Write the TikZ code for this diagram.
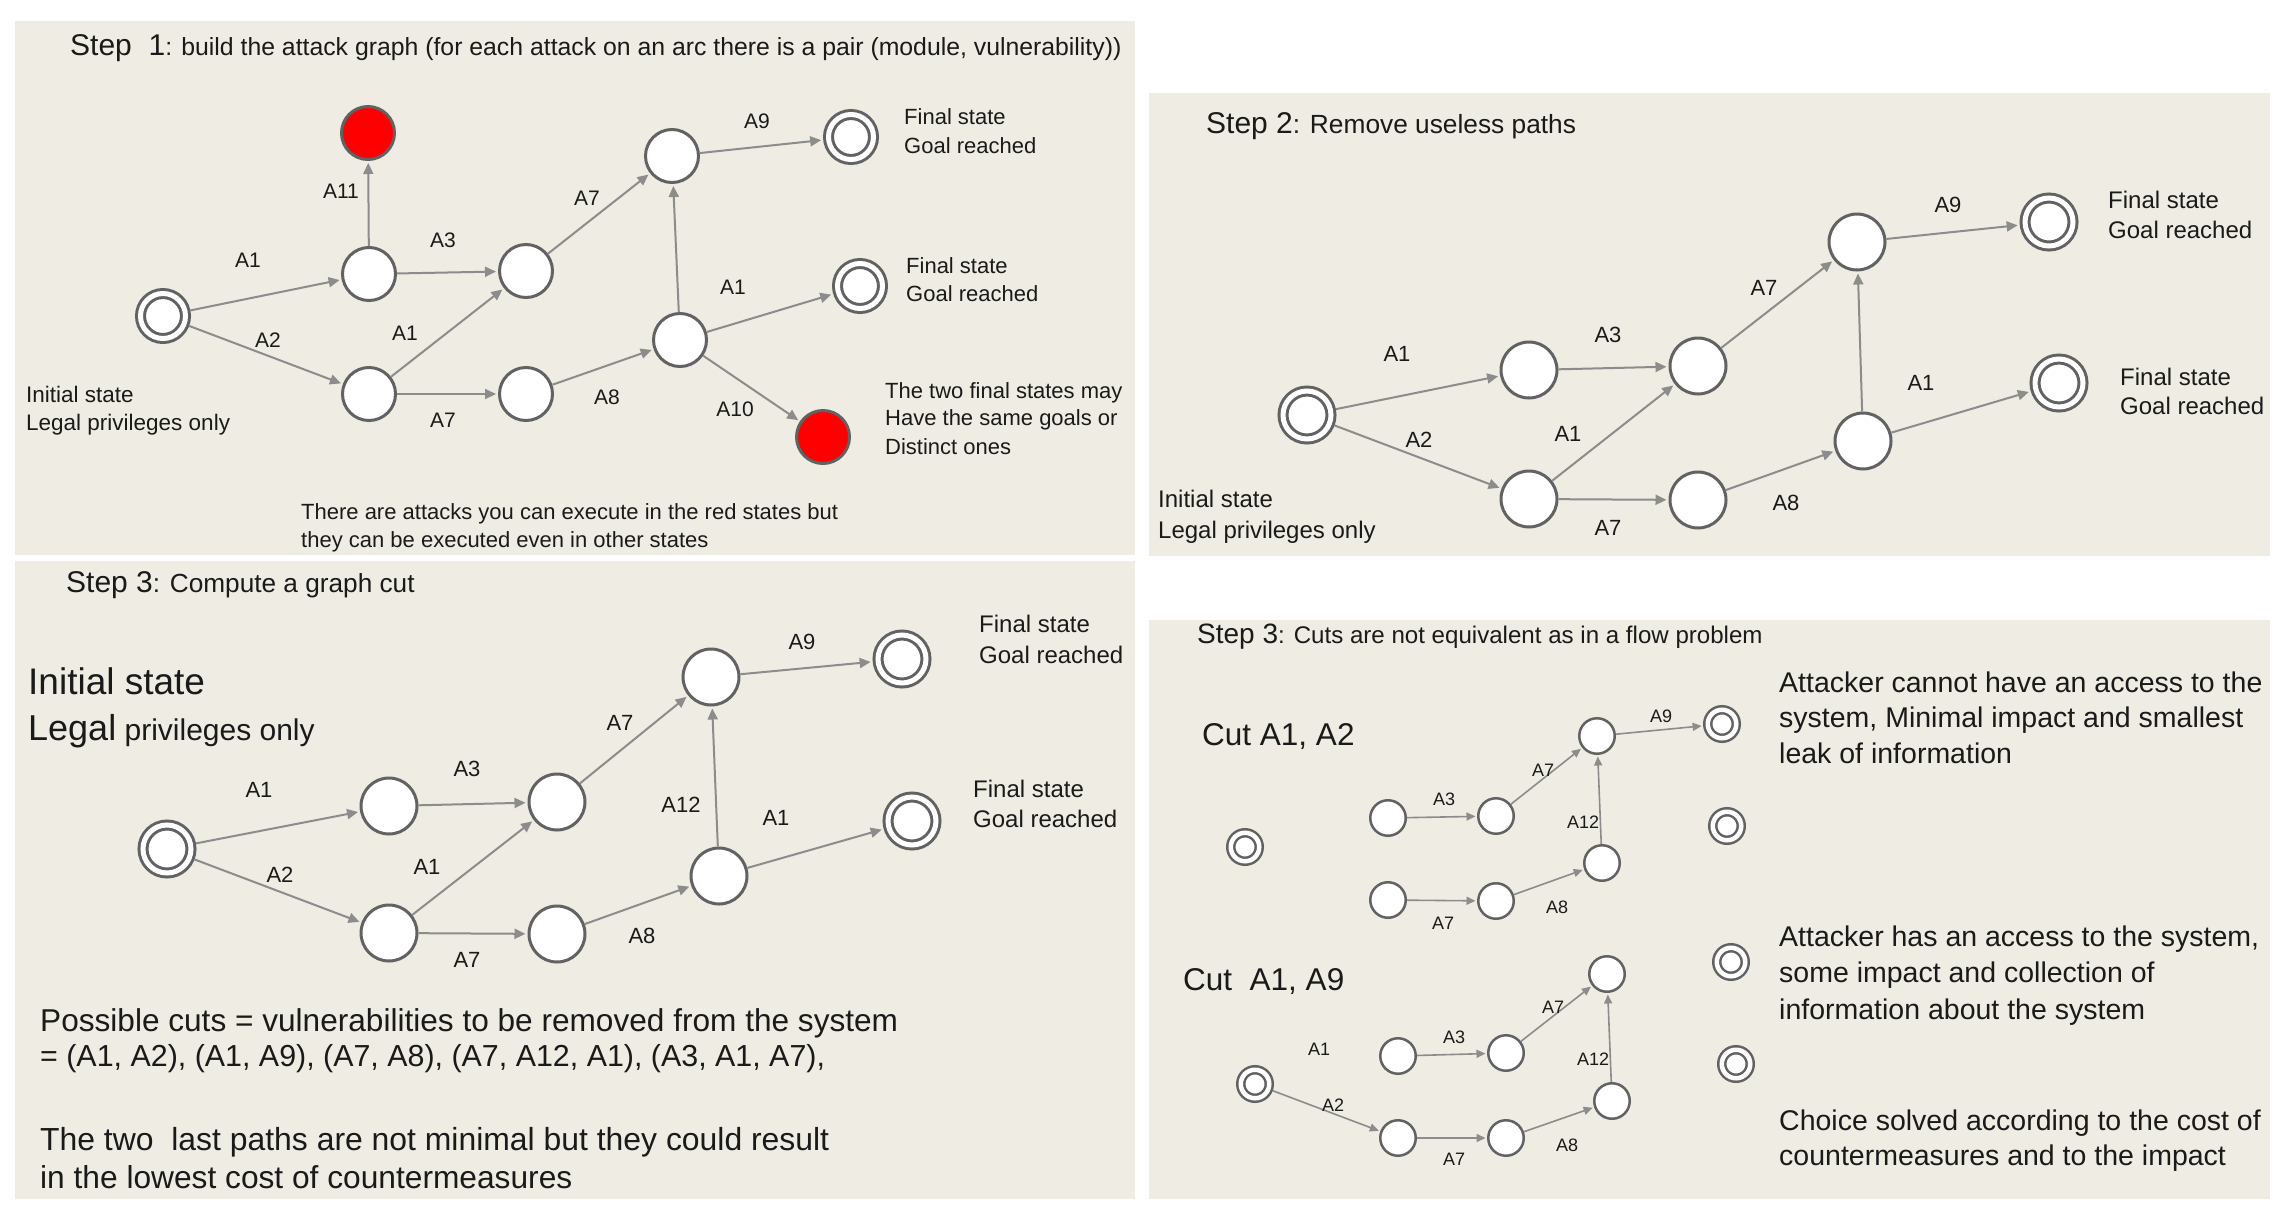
\documentclass[tikz,border=0pt]{standalone}
\usepackage{fontspec}
\setmainfont{Liberation Sans}
\usetikzlibrary{arrows.meta}
\definecolor{bgp}{HTML}{EEECE3}
\definecolor{nodeg}{HTML}{626262}
\definecolor{edgeg}{HTML}{8C8C8C}
\definecolor{txt}{HTML}{1A1A1A}
\definecolor{redst}{HTML}{FF0000}
\newcommand{\myfs}[1]{\fontsize{#1}{#1}\selectfont}
\begin{document}
\begin{tikzpicture}[x=1pt,y=-1pt,
  st/.style={circle, draw=nodeg, line width=3pt, fill=white, minimum size=53pt, inner sep=0pt, outer sep=1.5pt},
  stb/.style={st, minimum size=56pt},
  rst/.style={st, fill=redst},
  dst/.style={circle, draw=nodeg, line width=3pt, fill=white, double=white, double distance=5pt, minimum size=45pt, inner sep=0pt, outer sep=5.5pt},
  dstb/.style={dst, minimum size=48pt},
  sst/.style={circle, draw=nodeg, line width=2.5pt, fill=white, minimum size=35.5pt, inner sep=0pt, outer sep=1.25pt},
  sdst/.style={circle, draw=nodeg, line width=2.5pt, fill=white, double=white, double distance=4.5pt, minimum size=28.5pt, inner sep=0pt, outer sep=4.75pt},
  ed/.style={draw=edgeg, line width=2pt, -{Triangle[length=11pt,width=10pt]}, shorten >=2pt},
  sed/.style={draw=edgeg, line width=1.6pt, -{Triangle[length=9pt,width=8pt]}, shorten >=1.5pt},
  lab/.style={inner sep=0pt, text=txt, font=\myfs{21}},
  labb/.style={inner sep=0pt, text=txt, font=\myfs{22}},
  labs/.style={inner sep=0pt, text=txt, font=\myfs{18}},
  tx/.style={anchor=base west, inner sep=0pt, text=txt},
  panel/.style={fill=bgp, draw=none}
]
\useasboundingbox (0,0) rectangle (2287,1213);
\fill[white] (0,0) rectangle (2287,1213);
% panels
\fill[panel] (15,21) rectangle (1135,555);
\fill[panel] (1149,93) rectangle (2270,556);
\fill[panel] (15,561) rectangle (1135,1199);
\fill[panel] (1149,620) rectangle (2270,1199);

% ================= Panel 1 =================
\node[tx] (t1) at (70,55) {\myfs{30}Step\ \ 1\myfs{24.8}: build the attack graph (for each attack on an arc there is a pair (module, vulnerability))};
\node[dst] (i1) at (163,316) {};
\node[st] (a1) at (369,274) {};
\node[st] (b1) at (369,394) {};
\node[st] (c1) at (526,271) {};
\node[st] (d1) at (526,394) {};
\node[st] (e1) at (672,156) {};
\node[st] (g1) at (680,340) {};
\node[rst] (r1) at (368,133) {};
\node[rst] (s1) at (823,437) {};
\node[dst] (f1) at (851,137) {};
\node[dst] (h1) at (860,286) {};
\draw[ed] (i1) -- (a1);
\draw[ed] (i1) -- (b1);
\draw[ed] (a1) -- (r1);
\draw[ed] (a1) -- (c1);
\draw[ed] (b1) -- (c1);
\draw[ed] (b1) -- (d1);
\draw[ed] (c1) -- (e1);
\draw[ed] (d1) -- (g1);
\draw[ed] (g1) -- (e1);
\draw[ed] (e1) -- (f1);
\draw[ed] (g1) -- (h1);
\draw[ed] (g1) -- (s1);
\node[lab] (l1a) at (341,191) {A11};
\node[lab] (l1b) at (248,260) {A1};
\node[lab] (l1c) at (443,240) {A3};
\node[lab] (l1d) at (587,198) {A7};
\node[lab] (l1e) at (757,121) {A9};
\node[lab] (l1f) at (733,287) {A1};
\node[lab] (l1g) at (268,340) {A2};
\node[lab] (l1h) at (405,333) {A1};
\node[lab] (l1i) at (607,397) {A8};
\node[lab] (l1j) at (443,420) {A7};
\node[lab] (l1k) at (735,409) {A10};
\node[tx, font=\myfs{22}] (x1a) at (904,124) {Final state};
\node[tx, font=\myfs{22}] (x1b) at (904,153) {Goal reached};
\node[tx, font=\myfs{22}] (x1c) at (906,273) {Final state};
\node[tx, font=\myfs{22}] (x1d) at (906,301) {Goal reached};
\node[tx, font=\myfs{22.5}] (x1e) at (26,402) {Initial state};
\node[tx, font=\myfs{22.5}] (x1f) at (26,430) {Legal privileges only};
\node[tx, font=\myfs{22}] (x1g) at (885,398) {The two final states may};
\node[tx, font=\myfs{22}] (x1h) at (885,425) {Have the same goals or};
\node[tx, font=\myfs{22}] (x1i) at (885,454) {Distinct ones};
\node[tx, font=\myfs{22}] (x1j) at (301,519) {There are attacks you can execute in the red states but};
\node[tx, font=\myfs{22}] (x1k) at (301,547) {they can be executed even in other states};

% ================= Panel 2 =================
\node[tx] (t2) at (1206,133) {\myfs{30}Step 2\myfs{26.3}: Remove useless paths};
\node[dstb] (i2) at (1307,415) {};
\node[stb] (a2) at (1529,370) {};
\node[stb] (b2) at (1529,499) {};
\node[stb] (c2) at (1698,366) {};
\node[stb] (d2) at (1698,500) {};
\node[stb] (e2) at (1857,242) {};
\node[stb] (g2) at (1863,441) {};
\node[dstb] (f2) at (2049,222) {};
\node[dstb] (h2) at (2059,383) {};
\draw[ed] (i2) -- (a2);
\draw[ed] (i2) -- (b2);
\draw[ed] (a2) -- (c2);
\draw[ed] (b2) -- (c2);
\draw[ed] (b2) -- (d2);
\draw[ed] (c2) -- (e2);
\draw[ed] (d2) -- (g2);
\draw[ed] (g2) -- (e2);
\draw[ed] (e2) -- (f2);
\draw[ed] (g2) -- (h2);
\node[labb] (l2a) at (1948,205) {A9};
\node[labb] (l2b) at (1764,288) {A7};
\node[labb] (l2c) at (1608,335) {A3};
\node[labb] (l2d) at (1397,354) {A1};
\node[labb] (l2e) at (1921,383) {A1};
\node[labb] (l2f) at (1419,440) {A2};
\node[labb] (l2g) at (1568,434) {A1};
\node[labb] (l2h) at (1786,503) {A8};
\node[labb] (l2i) at (1608,528) {A7};
\node[tx, font=\myfs{24}] (x2a) at (2108,208) {Final state};
\node[tx, font=\myfs{24}] (x2b) at (2108,238) {Goal reached};
\node[tx, font=\myfs{24}] (x2c) at (2120,385) {Final state};
\node[tx, font=\myfs{24}] (x2d) at (2120,414) {Goal reached};
\node[tx, font=\myfs{24}] (x2e) at (1158,507) {Initial state};
\node[tx, font=\myfs{24}] (x2f) at (1158,538) {Legal privileges only};

% ================= Panel 3 =================
\node[tx] (t3) at (66,592) {\myfs{30}Step 3\myfs{26.2}: Compute a graph cut};
\node[tx, font=\myfs{37}] (x3a) at (28,694) {Initial state};
\node[tx] (x3b) at (28,740) {\myfs{36}Legal\myfs{30} privileges only};
\node[dstb] (i3) at (167,849) {};
\node[stb] (a3) at (389,806) {};
\node[stb] (b3) at (389,933) {};
\node[stb] (c3) at (557,802) {};
\node[stb] (d3) at (557,934) {};
\node[stb] (e3) at (711,677) {};
\node[stb] (g3) at (719,876) {};
\node[dstb] (f3) at (902,659) {};
\node[dstb] (h3) at (912,821) {};
\draw[ed] (i3) -- (a3);
\draw[ed] (i3) -- (b3);
\draw[ed] (a3) -- (c3);
\draw[ed] (b3) -- (c3);
\draw[ed] (b3) -- (d3);
\draw[ed] (c3) -- (e3);
\draw[ed] (d3) -- (g3);
\draw[ed] (g3) -- (e3);
\draw[ed] (e3) -- (f3);
\draw[ed] (g3) -- (h3);
\node[labb] (l3a) at (802,642) {A9};
\node[labb] (l3b) at (620,723) {A7};
\node[labb] (l3c) at (467,769) {A3};
\node[labb] (l3d) at (259,790) {A1};
\node[labb] (l3e) at (681,805) {A12};
\node[labb] (l3f) at (776,818) {A1};
\node[labb] (l3g) at (280,875) {A2};
\node[labb] (l3h) at (427,867) {A1};
\node[labb] (l3i) at (642,936) {A8};
\node[labb] (l3j) at (467,960) {A7};
\node[tx, font=\myfs{24}] (x3c) at (979,632) {Final state};
\node[tx, font=\myfs{24}] (x3d) at (979,663) {Goal reached};
\node[tx, font=\myfs{24}] (x3e) at (973,797) {Final state};
\node[tx, font=\myfs{24}] (x3f) at (973,827) {Goal reached};
\node[tx, font=\myfs{31.6}] (x3g) at (40,1031) {Possible cuts = vulnerabilities to be removed from the system};
\node[tx, font=\myfs{30.4}] (x3h) at (40,1066) {= (A1, A2), (A1, A9), (A7, A8), (A7, A12, A1), (A3, A1, A7),};
\node[tx, font=\myfs{31.9}] (x3i) at (40,1150) {The two\ \ last paths are not minimal but they could result};
\node[tx, font=\myfs{31.7}] (x3j) at (40,1188) {in the lowest cost of countermeasures};

% ================= Panel 4 =================
\node[tx] (t4) at (1197,643) {\myfs{28}Step 3\myfs{24.1}: Cuts are not equivalent as in a flow problem};
\node[tx, font=\myfs{31.5}] (x4a) at (1202,745) {Cut A1, A2};
\node[tx, font=\myfs{31.5}] (x4b) at (1183,990) {Cut\ \ A1, A9};
% upper graph
\node[sdst] (u0) at (1245,847) {};
\node[sst] (u1) at (1388,818) {};
\node[sst] (u2) at (1496,816) {};
\node[sst] (u3) at (1597,736) {};
\node[sdst] (uf) at (1722,724) {};
\node[sst] (v1) at (1388,900) {};
\node[sst] (v2) at (1496,901) {};
\node[sst] (v3) at (1602,863) {};
\node[sdst] (vf) at (1727,826) {};
\draw[sed] (u1) -- (u2);
\draw[sed] (u2) -- (u3);
\draw[sed] (u3) -- (uf);
\draw[sed] (v1) -- (v2);
\draw[sed] (v2) -- (v3);
\draw[sed] (v3) -- (u3);
\node[labs] (l4a) at (1661,716) {A9};
\node[labs] (l4b) at (1543,770) {A7};
\node[labs] (l4c) at (1444,799) {A3};
\node[labs] (l4d) at (1583,822) {A12};
\node[labs] (l4e) at (1557,907) {A8};
\node[labs] (l4f) at (1443,923) {A7};
% lower graph
\node[sdst] (w0) at (1255,1084) {};
\node[sst] (w1) at (1398,1056) {};
\node[sst] (w2) at (1506,1053) {};
\node[sst] (w3) at (1607,974) {};
\node[sst] (x1) at (1398,1138) {};
\node[sst] (x2) at (1506,1138) {};
\node[sst] (x3) at (1612,1101) {};
\node[sdst] (wf) at (1731,962) {};
\node[sdst] (xf) at (1736,1064) {};
\draw[sed] (w0) -- (x1);
\draw[sed] (w1) -- (w2);
\draw[sed] (w2) -- (w3);
\draw[sed] (x1) -- (x2);
\draw[sed] (x2) -- (x3);
\draw[sed] (x3) -- (w3);
\node[labs] (l4g) at (1319,1049) {A1};
\node[labs] (l4h) at (1454,1037) {A3};
\node[labs] (l4i) at (1553,1007) {A7};
\node[labs] (l4j) at (1593,1059) {A12};
\node[labs] (l4k) at (1333,1105) {A2};
\node[labs] (l4l) at (1567,1145) {A8};
\node[labs] (l4m) at (1454,1159) {A7};
% right texts
\node[tx, font=\myfs{28.5}] (x4c) at (1779,692) {Attacker cannot have an access to the};
\node[tx, font=\myfs{28.5}] (x4d) at (1779,727) {system, Minimal impact and smallest};
\node[tx, font=\myfs{28.5}] (x4e) at (1779,763) {leak of information};
\node[tx, font=\myfs{28.5}] (x4f) at (1779,946) {Attacker has an access to the system,};
\node[tx, font=\myfs{28.5}] (x4g) at (1779,982) {some impact and collection of};
\node[tx, font=\myfs{28.5}] (x4h) at (1779,1019) {information about the system};
\node[tx, font=\myfs{28.5}] (x4i) at (1779,1130) {Choice solved according to the cost of};
\node[tx, font=\myfs{28.5}] (x4j) at (1779,1165) {countermeasures and to the impact};
\end{tikzpicture}
\end{document}
